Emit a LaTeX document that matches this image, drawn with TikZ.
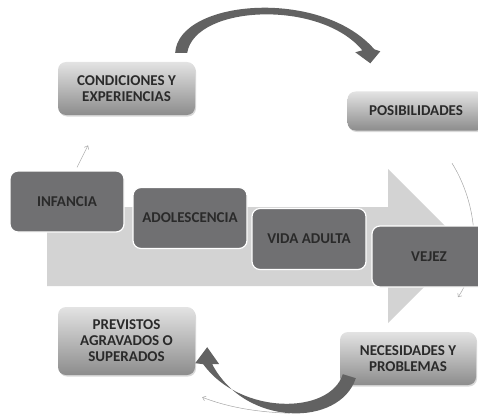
\documentclass[tikz,border=0pt]{standalone}
\usepackage{fontspec}
\setmainfont{Carlito}
\usepackage{tikz}
\usetikzlibrary{arrows.meta,positioning,calc,shadows}
\definecolor{StageGrey}{HTML}{707072}
\definecolor{BandGrey}{HTML}{D3D3D3}
\definecolor{CurlGrey}{HTML}{626262}
\definecolor{ThinGrey}{HTML}{A6A6A6}
\definecolor{InkGrey}{HTML}{2A2A2A}

\begin{document}
\begin{tikzpicture}[x=1pt,y=-1pt,
  lbl/.style={font=\fontsize{15}{16}\selectfont\bfseries,align=center,text=InkGrey},
  stage/.style={lbl,draw=white,line width=1.2pt,rounded corners=8pt,fill=StageGrey,minimum width=114pt,minimum height=61pt},
  note/.style={lbl,rounded corners=8pt,top color=gray!22,bottom color=gray!90,inner sep=0pt,
    drop shadow={shadow xshift=1pt,shadow yshift=-1.5pt,opacity=.3}},
  thinarrow/.style={ThinGrey,line width=.5pt,-{Straight Barb[length=3pt,width=5pt]}},
  curl/.style={fill=CurlGrey}]
  \useasboundingbox (0,0) rectangle (478,417);
  \clip (0,0) rectangle (478,417);

  % band behind the stages
  \fill[BandGrey] (47,207) -- (388,207) -- (388,169) -- (465,246) -- (388,323) -- (388,286) -- (47,286) -- cycle;

  \node[note,minimum width=137pt,minimum height=53pt] (cond) at (126.5,88.5) {CONDICIONES Y\\EXPERIENCIAS};
  \node[note,minimum width=137pt,minimum height=39pt] (posib) at (416,111) {POSIBILIDADES};
  \node[note,minimum width=136pt,minimum height=53pt] (neces) at (408,358.5) {NECESIDADES Y\\PROBLEMAS};
  \node[note,minimum width=137pt,minimum height=68pt] (previs) at (126.5,341) {PREVISTOS\\AGRAVADOS O\\SUPERADOS};

  \coordinate (arcfrom) at ($(posib.south)+(36,32.5)$);
  \coordinate (arcto) at ($(posib.south)+(42,166.5)$);
  \draw[thinarrow] (arcfrom) .. controls (478,205) and (482,262) .. (arcto);

  \node[stage] (infancia) at (67,201.5) {INFANCIA};
  \node[stage] (adol) at (190,218) {ADOLESCENCIA};
  \node[stage] (adulta) at (309,239) {VIDA ADULTA};
  \node[stage] (vejez) at (429,256.5) {VEJEZ};

  \coordinate (tlfrom) at ($(infancia.north)+(10,-3)$);
  \coordinate (tlto) at ($(infancia.north)+(21,-25)$);
  \draw[thinarrow] (tlfrom) -- (tlto);

  \coordinate (lowfrom) at ($(neces.south west)+(-50,28)$);
  \coordinate (lowto) at ($(previs.south east)+(7,22)$);
  \draw[thinarrow] (lowfrom) .. controls (250,412) and (222,405) .. (lowto);

  \coordinate (topfrom) at ($(cond.north east)+(-14,-9)$);
  \coordinate (topto) at ($(posib.north west)+(23,-28)$);
  \fill[curl] ($(topfrom)+(-6,0)$) .. controls ($(topfrom)+(-3,-53)$) and ($(topto)+(-50,-76)$) .. ($(topto)+(4,-14)$)
    -- ($(topto)+(10,-12)$) -- (topto) -- ($(topto)+(-15,-11)$) -- ($(topto)+(-8,-13)$)
    .. controls ($(topto)+(-50,-64)$) and ($(topfrom)+(14,-48)$) .. ($(topfrom)+(6,0)$) -- cycle;

  \coordinate (botfrom) at ($(neces.south west)+(9,-9)$);
  \coordinate (botto) at ($(previs.south east)+(12,-28)$);
  \fill[curl] ($(botfrom)+(-6,-2)$) .. controls ($(botfrom)+(-19,39)$) and ($(botto)+(33,68)$) .. ($(botto)+(-4,17)$)
    -- ($(botto)+(-12,16)$) -- (botto) -- ($(botto)+(12,17)$) -- ($(botto)+(5,17)$)
    .. controls ($(botto)+(38,80)$) and ($(botfrom)+(-9,51)$) .. ($(botfrom)+(7,2)$) -- cycle;
\end{tikzpicture}
\end{document}
